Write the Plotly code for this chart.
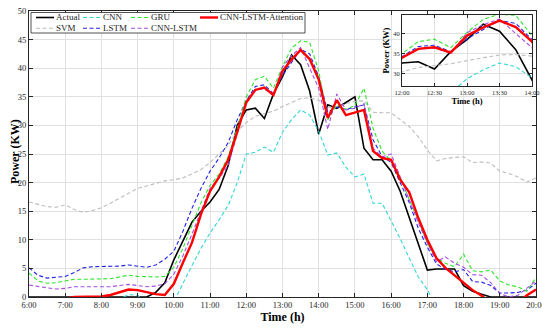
import plotly.graph_objects as go

# ---------------- data (15-min resolution, 6:00 - 20:00) ----------------
hours = [6 + 0.25 * i for i in range(57)]
hour_ticks = list(range(6, 21))
hour_labels = [f"{h}:00" for h in hour_ticks]
inset_ticks = [12, 12.5, 13, 13.5, 14]
inset_labels = ["12:00", "12:30", "13:00", "13:30", "14:00"]

actual = [0, 0, 0, 0,  0, 0, 0, 0,  0, 0, 0, 0,  0, 0, 0.8, 2.5,
          6.5, 9.8, 13.1, 15,  16.6, 18.8, 23, 30,  32.7, 33, 31.2, 35.5,
          38.5, 42.3, 40.6, 36,  28.5, 33.6, 33, 34,  35, 26, 24, 24,
          22, 18.5, 14, 9.5,  4.7, 4.9, 4.9, 4.9,  2, 1.0, 0.5, 0,
          0, 0, 0, 0,  0]
svm = [16.6, 16.2, 15.8, 15.7,  16.1, 15.3, 14.8, 15.1,  15.6, 16.4, 17.3, 18.2,
       19, 19.4, 19.9, 20.3,  20.5, 20.8, 21.5, 22.3,  23.5, 25, 26.5, 29,
       30.5, 31.6, 32, 32.5,  33.3, 34, 34.7, 34.8,  34.4, 33.2, 33.2, 33.8,
       34.2, 34.3, 32.3, 32.2,  32.2, 31, 29.8, 28,  25.7, 23.8, 24.2, 24.4,
       24.5, 23.5, 23.6, 23.4,  22, 21.6, 21, 20.1,  20.8]
cnn = [-2, -2, -2, -2,  -2, -2, -2, -2,  -2, -1, -0.3, 0.4,  0.3, -1, -2, -2,
       -0.8, 2.5, 5.5, 8.5,  11.2, 13.5, 16, 20,  25, 25.3, 26.2, 25.3,
       28.8, 31, 32.7, 31.8,  29, 24.8, 25.2, 22.7,  21, 21.5, 16.4, 16.4,
       13.3, 10.2, 6.8, 3.5,  1.3, -2, -2, -2,  -2, -2, -2, -2,
       -2, -2, -2, -2,  -2]
lstm = [5.1, 3.8, 3.3, 3.4,  3.6, 4.3, 5.1, 5.3,  5.3, 5.3, 5.4, 5.6,
        5.4, 5.2, 5.6, 6.6,  8.0, 11.5, 15.5, 19,  22, 24.3, 27, 31,
        34.3, 36.8, 37.1, 35.5,  38.7, 41, 43.3, 42.5,  38.5, 32.3, 33.2, 32.8,
        33.2, 33.6, 27.5, 24.6,  23.5, 20, 16.5, 12,  8.7, 5.8, 4.8, 4.4,
        4.8, 2.7, 2.6, 2.0,  0.7, 0.7, 0.8, 1.2,  2.4]
gru = [4.2, 2.8, 2.4, 2.5,  2.8, 3.1, 3.1, 3.1,  3.1, 3.2, 3.5, 3.8,
       3.6, 3.5, 3.5, 3.6,  5.2, 8.5, 12.5, 16.5,  19.5, 21.5, 24.5, 29.5,
       35, 38, 38.6, 36.5,  40.3, 43.5, 44.8, 44.5,  39.5, 31, 33.6, 32.8,
       33.5, 36.5, 29.5, 25.5,  23.8, 21, 17, 13.5,  9.4, 6.8, 5.9, 5.3,
       7.5, 4.6, 4.4, 4.7,  2.8, 2.1, 1.8, 1.0,  3.4]
cnn_lstm = [2.1, 1.8, 1.6, 1.4,  1.5, 1.8, 1.8, 1.8,  1.7, 1.8, 2.0, 2.2,
            2.0, 1.8, 1.9, 2.3,  4.0, 7.2, 11.0, 15,  19, 20.8, 23, 28.5,
            34.3, 36.3, 36.4, 35.2,  40.2, 42.2, 43.6, 40,  36.5, 29.3, 35.5, 32.7,
            33, 33.8, 26, 24.5,  25, 21, 17, 13,  9.4, 6.2, 7.0, 5.9,
            5.2, 3.9, 3.8, 2.5,  0.6, 0, 0.3, 1.5,  2.8]
attention = [-1, -1, -1, -0.8,  -0.3, 0, 0, 0,  0.1, 0.35, 0.8, 1.3,
             1.2, 0.8, 0.5, 0.35,  2.3, 6.0, 9.5, 14.5,  18.5, 21, 24, 28.8,
             34, 36.2, 36.6, 35.3,  39.5, 41.5, 43.2, 41.6,  38, 31.3, 34.4, 31.8,
             32.2, 32.7, 25.5, 24.3,  24, 20.5, 18.3, 13.8,  10, 6.8, 5.1, 3.8,
             2.6, 1.2, 0.2, -1,  -1, -1, -1, 0.3,  1.3]

series_names = ["Actual", "SVM", "CNN", "LSTM", "GRU", "CNN-LSTM", "CNN-LSTM-Attention"]
series_values = [actual, svm, cnn, lstm, gru, cnn_lstm, attention]

# ---------------- styling ----------------
FONT = "Liberation Serif"
AX = "#262626"
GRID = "#e0e0e0"
DASH = "4px,2.5px"
styles = {
    "Actual": dict(color="#000000", width=1.6, dash="solid"),
    "SVM": dict(color="#bdbdbd", width=1.1, dash=DASH),
    "CNN": dict(color="#33d6d6", width=1.1, dash=DASH),
    "LSTM": dict(color="#2323e6", width=1.1, dash=DASH),
    "GRU": dict(color="#2ee62e", width=1.1, dash=DASH),
    "CNN-LSTM": dict(color="#a64de0", width=1.1, dash=DASH),
    "CNN-LSTM-Attention": dict(color="#ff0000", width=2.4, dash="solid"),
}

# page body adds an 8 px offset; plot area wanted at x 29..536, y 11..297 of the window
OFF = 8
WIN_W, WIN_H = 550, 329
W, H = WIN_W - OFF, WIN_H - OFF
PX0, PX1, PY0, PY1 = 29, 536, 11, 297
L, R, T, B = PX0 - OFF, WIN_W - PX1, PY0 - OFF, WIN_H - PY1
PW, PH = PX1 - PX0, PY1 - PY0


def px2x(px):
    return (px - PX0) / PW


def py2y(py):
    return (PY1 - py) / PH


fig = go.Figure()
for name, vals in zip(series_names, series_values):
    st = styles[name]
    fig.add_trace(go.Scatter(x=hours, y=vals, mode="lines", name=name, showlegend=False,
                             line=dict(color=st["color"], width=st["width"], dash=st["dash"]),
                             xaxis="x", yaxis="y"))
for name, vals in zip(series_names, series_values):
    st = styles[name]
    fig.add_trace(go.Scatter(x=hours, y=vals, mode="lines", name=name, showlegend=False,
                             line=dict(color=st["color"], width=st["width"], dash=st["dash"]),
                             xaxis="x2", yaxis="y2"))

axis_common = dict(showline=True, linecolor=AX, linewidth=1, mirror="allticks",
                   ticks="inside", tickcolor=AX, showgrid=True, gridcolor=GRID,
                   gridwidth=1, zeroline=False, automargin=False,
                   ticklabeloverflow="allow")

fig.update_layout(
    width=W, height=H,
    margin=dict(l=L, r=R, t=T, b=B),
    paper_bgcolor="white", plot_bgcolor="white",
    font=dict(family=FONT, color=AX),
    showlegend=False,
    xaxis=dict(range=[6, 20], tickvals=hour_ticks, ticktext=hour_labels, ticklen=4,
               tickfont=dict(size=8.5, family=FONT, color=AX),
               title=dict(text="<b>Time (h)</b>", font=dict(size=12, family=FONT, color="#000"), standoff=3),
               domain=[0, 1], anchor="y", **axis_common),
    yaxis=dict(range=[0, 50], tickvals=list(range(0, 51, 5)), ticklen=4,
               tickfont=dict(size=8.5, family=FONT, color=AX),
               domain=[0, 1], anchor="x", **axis_common),
    xaxis2=dict(range=[12, 14], tickvals=inset_ticks, ticktext=inset_labels, ticklen=3,
                tickfont=dict(size=6.5, family=FONT, color=AX),
                title=dict(text="<b>Time (h)</b>", font=dict(size=8.5, family=FONT, color="#000"), standoff=2),
                domain=[px2x(402), px2x(532)], anchor="y2", **axis_common),
    yaxis2=dict(range=[27, 44.6], tickvals=[30, 35, 40], ticklen=3,
                tickfont=dict(size=6.5, family=FONT, color=AX),
                title=dict(text="<b>Power (KW)</b>", font=dict(size=8.5, family=FONT, color="#000"), standoff=2),
                domain=[py2y(86), py2y(15)], anchor="x2", **axis_common),
)

shapes = []
# opaque background of the inset axes (drawn in the inset subplot's lower layer)
shapes.append(dict(type="rect", xref="x2", yref="y2", x0=12, x1=14, y0=27, y1=44.6,
                   fillcolor="white", line=dict(width=0), layer="below"))
# legend box
shapes.append(dict(type="rect", xref="paper", yref="paper",
                   x0=px2x(31), x1=px2x(305), y0=py2y(33), y1=py2y(12.5),
                   fillcolor="white", line=dict(color=AX, width=0.8), layer="above"))

legend_cols = [(36, 54, 55), (83, 101, 102), (131, 149, 150), (200, 218, 219)]
legend_rows = [17.5, 28.3]
legend_layout = [("Actual", 0, 0), ("SVM", 0, 1), ("CNN", 1, 0), ("LSTM", 1, 1),
                 ("GRU", 2, 0), ("CNN-LSTM", 2, 1), ("CNN-LSTM-Attention", 3, 0)]
annotations = []
for name, c, r in legend_layout:
    x0, x1, tx = legend_cols[c]
    yy = py2y(legend_rows[r])
    st = styles[name]
    shapes.append(dict(type="line", xref="paper", yref="paper", x0=px2x(x0), x1=px2x(x1),
                       y0=yy, y1=yy, layer="above",
                       line=dict(color=st["color"], width=st["width"], dash=st["dash"])))
    annotations.append(dict(text=name, xref="paper", yref="paper", x=px2x(tx), y=yy,
                            xanchor="left", yanchor="middle", showarrow=False,
                            font=dict(size=9, family=FONT, color=AX), borderpad=0))

# main y-axis title
annotations.append(dict(text="<b>Power (KW)</b>", xref="paper", yref="paper",
                        x=px2x(15), y=py2y(152), textangle=-90, showarrow=False,
                        xanchor="center", yanchor="middle", borderpad=0,
                        font=dict(size=12, family=FONT, color="#000")))

fig.update_layout(shapes=shapes, annotations=annotations)
fig.write_html("out.html")
